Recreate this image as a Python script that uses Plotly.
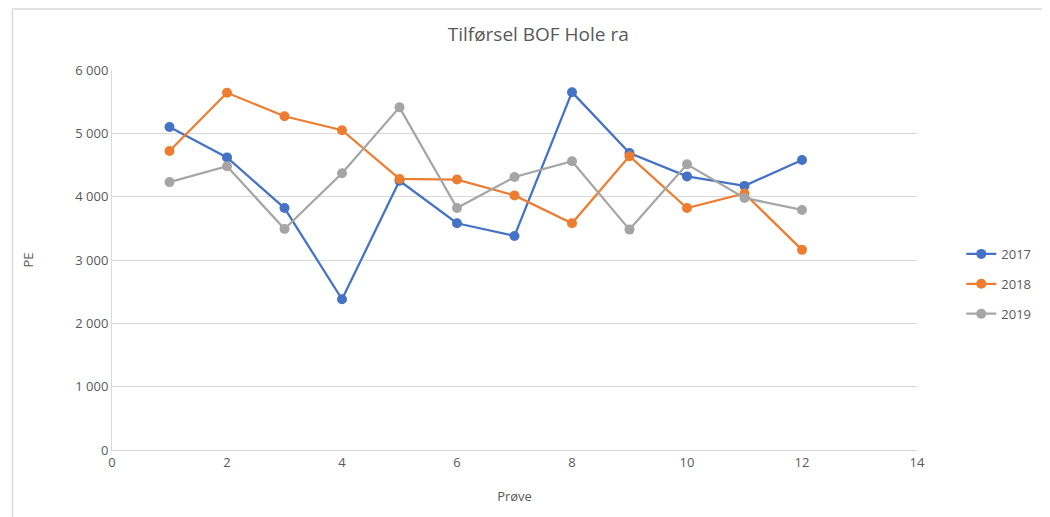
import plotly.graph_objects as go

prove = list(range(1, 13))
v2017 = [5100, 4620, 3820, 2380, 4250, 3580, 3380, 5650, 4690, 4320, 4170, 4580]
v2018 = [4720, 5640, 5270, 5050, 4280, 4270, 4020, 3580, 4640, 3820, 4050, 3160]
v2019 = [4230, 4480, 3490, 4370, 5410, 3820, 4310, 4560, 3480, 4510, 3980, 3790]

series = [("2017", v2017, "#4472C4"), ("2018", v2018, "#ED7D31"), ("2019", v2019, "#A5A5A5")]

fig = go.Figure()
for name, vals, col in series:
    fig.add_trace(go.Scatter(x=prove, y=vals, name=name, mode="lines+markers",
                             legendgroup=name,
                             line=dict(color=col, width=2.25),
                             marker=dict(color=col, size=10)))

font = "Open Sans, Liberation Sans, sans-serif"
fig.update_layout(
    width=1050, height=517,
    margin=dict(l=104, r=141, t=62, b=75),
    paper_bgcolor="white", plot_bgcolor="white",
    separators=", ",
    title=dict(text="Tilførsel BOF Hole ra", x=0.505, xanchor="center", y=0.95, yanchor="middle",
               font=dict(family=font, size=19, color="#595959")),
    font=dict(family=font, size=12, color="#595959"),
    xaxis=dict(range=[0, 14], dtick=2, tick0=0, showgrid=False, zeroline=False,
               showline=True, linecolor="#D9D9D9", linewidth=1, ticks="",
               title=dict(text="Prøve", font=dict(size=13, color="#595959"), standoff=22),
               tickfont=dict(size=13, color="#595959")),
    yaxis=dict(range=[0, 6000], dtick=1000, tickformat=",d", showgrid=True, gridcolor="#D9D9D9",
               zeroline=False, showline=True, linecolor="#D9D9D9", linewidth=1, ticks="",
               title=dict(text="PE", font=dict(size=13, color="#595959"), standoff=38),
               tickfont=dict(size=13, color="#595959")),
    legend=dict(x=1.055, xanchor="left", y=0.437, yanchor="middle",
                font=dict(size=13, color="#595959"), tracegroupgap=10, itemwidth=30),
    showlegend=True,
)

# chart area border (top and left visible)
bx = (12.5 - 112) / 805
by = (450 - 9) / 380
fig.add_shape(type="line", xref="paper", yref="paper", x0=bx, x1=1.25,
              y0=by, y1=by, line=dict(color="#D9D9D9", width=1.5))
fig.add_shape(type="line", xref="paper", yref="paper", x0=bx, x1=bx,
              y0=by, y1=-0.25, line=dict(color="#D9D9D9", width=1.5))

fig.write_html("out.html")
